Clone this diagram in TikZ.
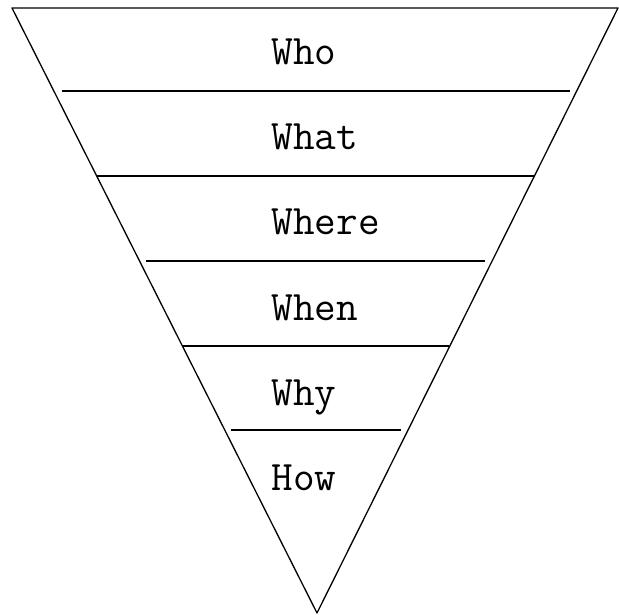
\documentclass[tikz,border=0pt]{standalone}

\begin{document}
\begin{tikzpicture}[x=1pt, y=-1pt, line width=1.3pt,
    wlabel/.style={font=\ttfamily\fontsize{42}{46}\selectfont, anchor=base west, inner sep=0pt}]
    \useasboundingbox (0,0) rectangle (619,615);

    \coordinate (topL) at (12,8);
    \coordinate (topR) at (618,8);
    \coordinate (apex) at (317,613);
    \draw[line join=round] (topL) -- (topR) -- (apex) -- cycle;

    % dividers between the rows
    \foreach \y/\xa/\xb in {91/62/570, 176/97/534, 261/146/485, 346/182/449, 430/231/401} {
        \draw (\xa,\y) -- (\xb,\y);
    }

    \foreach[count=\k] \w in {Who,What,Where,When,Why,How} {
        \node[wlabel] (w\k) at (271,{65+85*(\k-1)}) {\w};
    }
\end{tikzpicture}
\end{document}
